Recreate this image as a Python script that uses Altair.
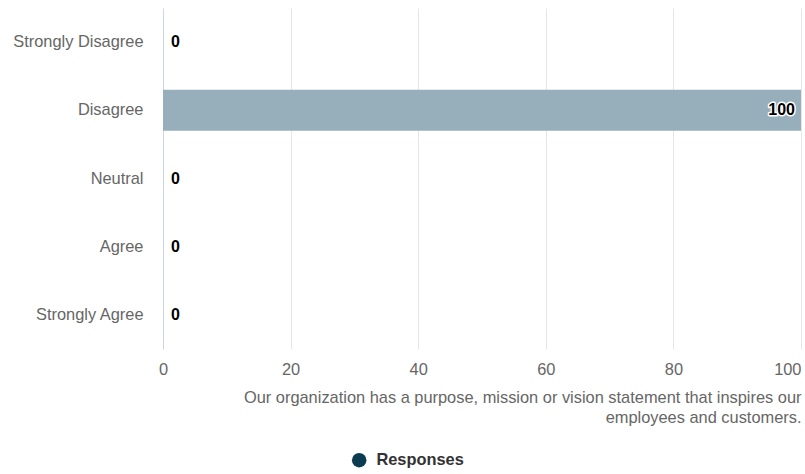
import altair as alt
import pandas as pd

categories = ["Strongly Disagree", "Disagree", "Neutral", "Agree", "Strongly Agree"]
values = [0, 100, 0, 0, 0]
series_name = "Responses"
x_ticks = [0, 20, 40, 60, 80, 100]
axis_title = ["Our organization has a purpose, mission or vision statement that inspires our",
              "employees and customers."]

df = pd.DataFrame({"category": categories, "value": values, "series": [series_name] * len(categories)})

FONT = "Liberation Sans"
FS = 16.4

y_enc = alt.Y("category:N", sort=categories,
              scale=alt.Scale(paddingInner=0.4, paddingOuter=0.2),
              axis=alt.Axis(title=None, labelFont=FONT, labelFontSize=FS, labelColor="#666666",
                            labelPadding=20, ticks=False, domain=True, domainColor="#ccd6eb",
                            domainWidth=1, grid=False, labelLimit=300))
x_enc = alt.X("value:Q", scale=alt.Scale(domain=[0, 100], nice=False),
              axis=alt.Axis(values=x_ticks, title=axis_title, titleAnchor="end", titleAlign="right",
                            titleFont=FONT, titleFontSize=FS, titleFontWeight="normal",
                            titleColor="#666666", titleLineHeight=20, titlePadding=12,
                            labelFont=FONT, labelFontSize=FS, labelColor="#666666",
                            labelAlign=alt.expr("datum.value == 100 ? 'right' : 'center'"),
                            labelPadding=12, ticks=False, domain=False, grid=True,
                            gridColor="#e6e6e6", gridWidth=1, labelFlush=False))

base = alt.Chart(df)

bars = base.mark_bar(color="#97aebb").encode(y=y_enc, x=x_enc)

legend_layer = base.mark_point(filled=True, opacity=0, size=10).encode(
    y=alt.Y("category:N", sort=categories),
    x=alt.X("value:Q"),
    color=alt.Color("series:N", scale=alt.Scale(range=["#0c3c4f"]),
                    legend=alt.Legend(title=None, orient="none", legendX=188, legendY=444,
                                      symbolType="circle", symbolSize=210, symbolOpacity=1,
                                      symbolStrokeWidth=0,
                                      labelFont=FONT, labelFontSize=FS, labelFontWeight="bold",
                                      labelColor="#333333", labelOffset=9)),
)

zero_labels = base.transform_filter("datum.value < 50").mark_text(
    align="left", dx=8, font=FONT, fontSize=16, fontWeight="bold", color="#000000"
).encode(y=alt.Y("category:N", sort=categories), x=alt.X("value:Q"), text=alt.Text("value:Q"))

big_outline = base.transform_filter("datum.value >= 50").mark_text(
    align="right", dx=-6, font=FONT, fontSize=16, fontWeight="bold", color="#000000",
    stroke="#ffffff", strokeWidth=3, strokeJoin="round"
).encode(y=alt.Y("category:N", sort=categories), x=alt.X("value:Q"), text=alt.Text("value:Q"))

big_labels = base.transform_filter("datum.value >= 50").mark_text(
    align="right", dx=-6, font=FONT, fontSize=16, fontWeight="bold", color="#000000"
).encode(y=alt.Y("category:N", sort=categories), x=alt.X("value:Q"), text=alt.Text("value:Q"))

chart = alt.layer(bars, legend_layer, zero_labels, big_outline, big_labels).properties(
    width=638, height=341,
    background="white",
    autosize=alt.AutoSizeParams(type="none"),
    padding={"left": 163, "top": 8, "right": 4, "bottom": 125},
).configure_view(strokeWidth=0)

chart.save("out.html", embed_options={"renderer": "svg", "actions": False})
